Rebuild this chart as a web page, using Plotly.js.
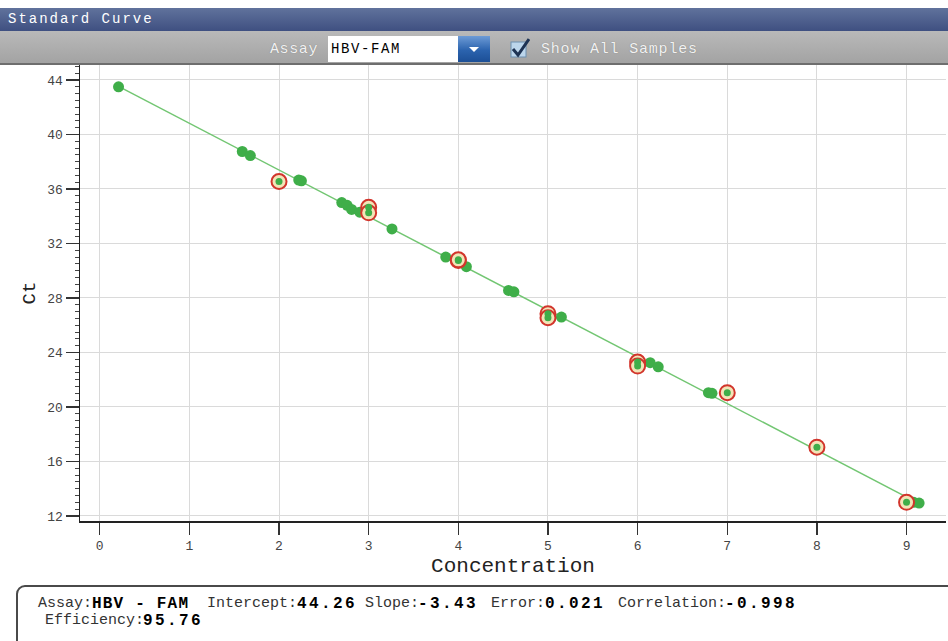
<!DOCTYPE html>
<html>
<head>
<meta charset="utf-8">
<script src="https://cdn.plot.ly/plotly-3.0.1.min.js"></script>
<style>
  html, body { margin:0; padding:0; background:#fff; width:948px; height:641px; overflow:hidden; }
  #wrap { position:relative; width:948px; height:641px; }
  #chart { position:absolute; left:0; top:0; width:948px; height:641px; }
  .mono { font-family:"Liberation Mono","DejaVu Sans Mono",monospace; }
  #titlebar { position:absolute; left:0; top:8px; width:948px; height:23px;
    background:linear-gradient(#60729c,#3f5081); color:#fff; font-size:14px; letter-spacing:2px; line-height:23px; }
  #titlebar span { padding-left:8px; }
  #toolbar { position:absolute; left:0; top:31px; width:948px; height:32px;
    background:linear-gradient(#b9b9b9,#a3a3a3); border-bottom:2px solid #6e6e6e; }
  #assayLbl { position:absolute; left:270px; top:10px; font-size:15px; letter-spacing:0.6px; color:#f2f2f2; text-shadow:0 0 1px #777; }
  #dd { position:absolute; left:328px; top:5px; width:130px; height:26px; background:#fff;
    font-size:14px; letter-spacing:1.6px; line-height:26px; color:#000; }
  #dd span { padding-left:3px; }
  #ddbtn { position:absolute; left:458px; top:5px; width:32px; height:26px;
    background:linear-gradient(#6d9bd6,#2b63ae 55%,#1c4f96); }
  #ddbtn:after { content:""; position:absolute; left:11px; top:11px; border-left:5px solid transparent;
    border-right:5px solid transparent; border-top:5px solid #fff; }
  #cb { position:absolute; left:510px; top:7px; width:20px; height:20px; }
  #showLbl { position:absolute; left:541px; top:10px; font-size:15px; letter-spacing:0.8px; color:#f2f2f2; text-shadow:0 0 1px #777; }
  #info { position:absolute; left:16px; top:585px; width:960px; height:80px; border:2px solid #4a4a4a;
    border-radius:9px; background:#fff; }
  #info span { position:absolute; font-size:15px; white-space:pre; color:#333; line-height:18px; }
  #info span.v { font-weight:bold; color:#000; font-size:16px; letter-spacing:2.4px; }
  #info .r1 { top:8px; }
  #info .r2 { top:25px; }
</style>
</head>
<body>
<div id="wrap">
  <div id="chart"></div>
  <div id="titlebar" class="mono"><span>Standard Curve</span></div>
  <div id="toolbar" class="mono">
    <div id="assayLbl">Assay</div>
    <div id="dd"><span>HBV-FAM</span></div>
    <div id="ddbtn"></div>
    <svg id="cb" viewBox="0 0 20 20">
      <rect x="1" y="4" width="15" height="15" fill="#bcd6ec" stroke="#6d8fb0" stroke-width="1"/>
      <path d="M3 11 L8 17 L19 1" fill="none" stroke="#1e3354" stroke-width="3"/>
    </svg>
    <div id="showLbl">Show All Samples</div>
  </div>
  <div id="info" class="mono">
    <span class="r1" style="left:20px">Assay:</span><span class="r1 v" style="left:74px;letter-spacing:1.2px">HBV - FAM</span>
    <span class="r1" style="left:189px">Intercept:</span><span class="r1 v" style="left:279px">44.26</span>
    <span class="r1" style="left:347px">Slope:</span><span class="r1 v" style="left:400px">-3.43</span>
    <span class="r1" style="left:473px">Error:</span><span class="r1 v" style="left:527px">0.021</span>
    <span class="r1" style="left:600px">Correlation:</span><span class="r1 v" style="left:707px">-0.998</span>
    <span class="r2" style="left:27px">Efficiency:</span><span class="r2 v" style="left:125px">95.76</span>
  </div>
</div>
<script>
// All samples (green dots)
const sampleX = [0.21, 1.59, 1.68, 2.22, 2.25, 2.70, 2.76, 2.81, 2.90, 3.26, 3.86, 4.09, 4.56, 4.62, 5.15, 6.14, 6.23, 6.79, 6.83, 7.97, 9.08, 9.14];
const sampleY = [43.5, 38.75, 38.45, 36.65, 36.6, 35.0, 34.8, 34.5, 34.3, 33.07, 31.0, 30.3, 28.55, 28.45, 26.6, 23.25, 22.95, 21.05, 21.0, 17.05, 13.0, 12.95];
// Standards (red-circled)
const stdX = [2, 3, 3, 4, 4, 5, 5, 6, 6, 7, 8, 9];
const stdY = [36.55, 34.65, 34.25, 30.75, 30.8, 26.85, 26.55, 23.3, 23.0, 21.05, 17.05, 13.0];
// Fitted standard curve end points
const fitX = [0.21, 9.14];
const fitY = [43.53, 12.91];
const xTicks = [0, 1, 2, 3, 4, 5, 6, 7, 8, 9];
const yTicks = [12, 16, 20, 24, 28, 32, 36, 40, 44];

const mono = '"Liberation Mono","DejaVu Sans Mono",monospace';
const green = '#3fae49';

const traces = [
  { x: fitX, y: fitY, mode: 'lines', line: { color: '#72c672', width: 1.5 }, hoverinfo: 'skip' },
  { x: sampleX, y: sampleY, mode: 'markers', marker: { color: green, size: 11, line: { width: 0 } } },
  { x: stdX, y: stdY, mode: 'markers', marker: { color: '#f3e4b8', size: 15, line: { color: '#d2352c', width: 2 } } },
  { x: stdX, y: stdY, mode: 'markers', marker: { color: green, size: 7, line: { width: 0 } } }
];

const layout = {
  width: 948, height: 641,
  margin: { l: 80, r: 2, t: 65, b: 120 },
  paper_bgcolor: '#fff', plot_bgcolor: '#fff',
  showlegend: false,
  font: { family: mono, size: 13, color: '#333' },
  xaxis: {
    range: [-0.22, 9.44], tickvals: xTicks, ticktext: xTicks.map(String),
    showline: true, linecolor: '#222', linewidth: 1.5, mirror: false,
    ticks: 'outside', ticklen: 12, tickwidth: 1.5, tickcolor: '#333',
    showgrid: true, gridcolor: '#dadada', gridwidth: 1, zeroline: false,
    tickfont: { family: mono, size: 13, color: '#444' },
    title: { text: 'Concentration', font: { family: mono, size: 21, color: '#222' }, standoff: 4 }
  },
  yaxis: {
    range: [11.63, 45.1], tickvals: yTicks, ticktext: yTicks.map(String),
    showline: true, linecolor: '#222', linewidth: 1.5,
    ticks: 'outside', ticklen: 13, tickwidth: 1.5, tickcolor: '#333',
    minor: { dtick: 0.5, tick0: 0, ticks: 'outside', ticklen: 4, tickcolor: '#444', tickwidth: 1, showgrid: false },
    showgrid: true, gridcolor: '#dadada', gridwidth: 1, zeroline: false,
    tickfont: { family: mono, size: 13, color: '#444' },
    title: { text: 'Ct', font: { family: mono, size: 19, color: '#222' }, standoff: 6 }
  }
};

Plotly.newPlot('chart', traces, layout, { displayModeBar: false, staticPlot: true });
</script>
</body>
</html>
